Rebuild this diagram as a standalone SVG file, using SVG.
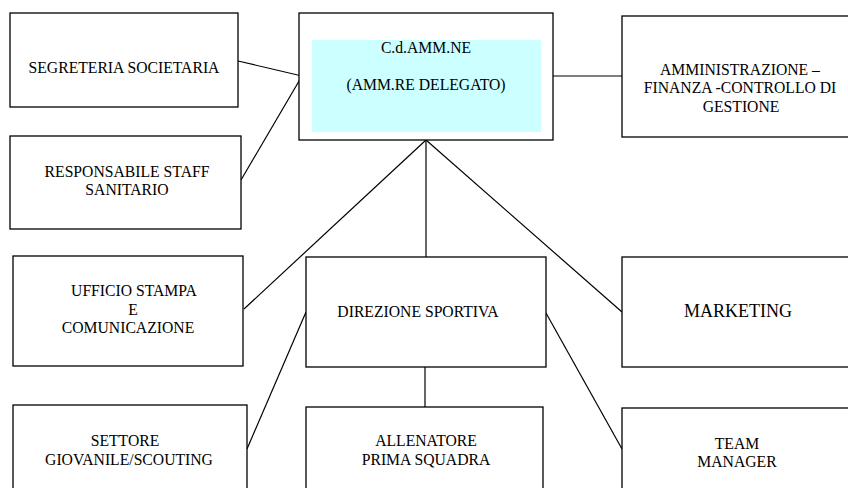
<svg xmlns="http://www.w3.org/2000/svg" width="848" height="488" viewBox="0 0 848 488">
<style>
.box{fill:#fff;stroke:#000;stroke-width:1.3}
text{font-family:"Liberation Serif","Times New Roman",serif;font-size:15.7px;fill:#000;text-anchor:middle}
text.big{font-size:18px}
.c line{stroke:#000;stroke-width:1.2}
</style>
<rect width="848" height="488" fill="#fff"/>
<g class="c" id="connectors">
<line x1="238" y1="61" x2="302" y2="76"/>
<line x1="241" y1="180" x2="302" y2="76"/>
<line x1="553" y1="76" x2="622" y2="76"/>
<line x1="426" y1="140" x2="244" y2="309"/>
<line x1="426" y1="140" x2="426" y2="257"/>
<line x1="426" y1="140" x2="622" y2="312"/>
<line x1="306" y1="312" x2="247" y2="449"/>
<line x1="425" y1="367" x2="425" y2="407"/>
<line x1="546" y1="313" x2="622" y2="449"/>
</g>
<g id="segreteria">
<rect class="box" x="10" y="13" width="228" height="94"/>
<text x="124" y="73">SEGRETERIA SOCIETARIA</text>
</g>
<g id="responsabile">
<rect class="box" x="10" y="136" width="231" height="93"/>
<text x="127" y="177">RESPONSABILE STAFF</text>
<text x="127" y="195">SANITARIO</text>
</g>
<g id="cda">
<rect class="box" x="299" y="13" width="254" height="127"/>
<rect x="312" y="40" width="229" height="92" fill="#ccffff"/>
<text x="426" y="53">C.d.AMM.NE</text>
<text x="426" y="90">(AMM.RE DELEGATO)</text>
</g>
<g id="amministrazione">
<rect class="box" x="622" y="16" width="230" height="121"/>
<text x="740" y="75">AMMINISTRAZIONE –</text>
<text x="740" y="93">FINANZA -CONTROLLO DI</text>
<text x="741" y="112">GESTIONE</text>
</g>
<g id="ufficio">
<rect class="box" x="13" y="256" width="230" height="110"/>
<text x="134" y="296">UFFICIO STAMPA</text>
<text x="133" y="315">E</text>
<text x="128" y="333">COMUNICAZIONE</text>
</g>
<g id="direzione">
<rect class="box" x="306" y="257" width="240" height="110"/>
<text x="418" y="317">DIREZIONE SPORTIVA</text>
</g>
<g id="marketing">
<rect class="box" x="622" y="257" width="230" height="110"/>
<text class="big" x="738" y="317">MARKETING</text>
</g>
<g id="settore">
<rect class="box" x="13" y="405" width="234" height="90"/>
<text x="125" y="446">SETTORE</text>
<text x="129" y="465">GIOVANILE/SCOUTING</text>
</g>
<g id="allenatore">
<rect class="box" x="306" y="407" width="237" height="90"/>
<text x="426" y="446">ALLENATORE</text>
<text x="426" y="465">PRIMA SQUADRA</text>
</g>
<g id="team">
<rect class="box" x="622" y="408" width="230" height="90"/>
<text x="737" y="449">TEAM</text>
<text x="737" y="467">MANAGER</text>
</g>
</svg>
